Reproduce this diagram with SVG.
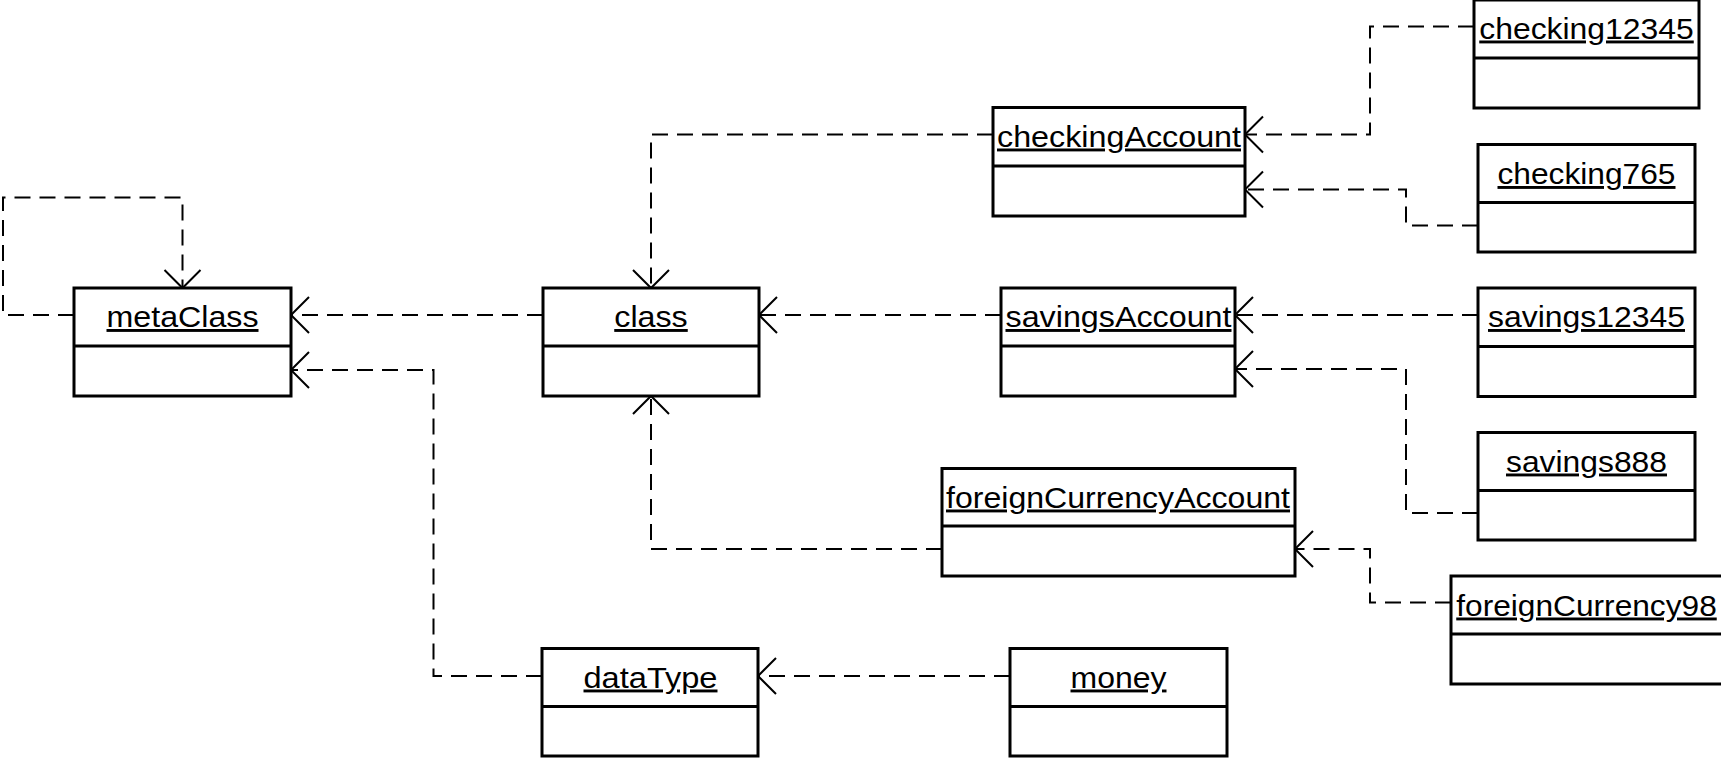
<svg xmlns="http://www.w3.org/2000/svg" width="1721" height="759" viewBox="0 0 1721 759">
<style>
.box{fill:#fff;stroke:#000;stroke-width:3}
.div{stroke:#000;stroke-width:3}
.lbl{font-family:"Liberation Sans",Arial,sans-serif;font-size:29px;fill:#000;text-anchor:middle;text-decoration:underline}
.dep{fill:none;stroke:#000;stroke-width:2;stroke-dasharray:16 9;marker-end:url(#open)}
</style>
<defs>
<marker id="open" markerUnits="userSpaceOnUse" viewBox="-20 -20 22 40" refX="0" refY="0" markerWidth="22" markerHeight="40" orient="auto" overflow="visible">
<path d="M-18,-18 L0,0 L-18,18" fill="none" stroke="#000" stroke-width="2" stroke-dasharray="none"/>
</marker>
</defs>
<rect width="1721" height="759" fill="#fff"/>
<g id="connectors">
<path class="dep" d="M74,315 H3 V197.5 H182.5 V288"/>
<path class="dep" d="M543,315 H291"/>
<path class="dep" d="M542,676 H433.5 V370 H291"/>
<path class="dep" d="M993,134.5 H651 V288"/>
<path class="dep" d="M1001,315 H759"/>
<path class="dep" d="M942,549 H651 V396"/>
<path class="dep" d="M1010,676 H758"/>
<path class="dep" d="M1474,26.5 H1370 V134.5 H1245"/>
<path class="dep" d="M1478,225.5 H1406 V189.5 H1245"/>
<path class="dep" d="M1478,315 H1235"/>
<path class="dep" d="M1478,513 H1406 V369 H1235"/>
<path class="dep" d="M1451,602.5 H1370 V549 H1295"/>
</g>
<g id="metaClass">
<rect class="box" x="74" y="288" width="217" height="108"/>
<line class="div" x1="74" y1="346" x2="291" y2="346"/>
<text class="lbl" x="182.5" y="327" textLength="152" lengthAdjust="spacingAndGlyphs">metaClass</text>
</g>
<g id="class">
<rect class="box" x="543" y="288" width="216" height="108"/>
<line class="div" x1="543" y1="346" x2="759" y2="346"/>
<text class="lbl" x="651" y="327" textLength="73.5" lengthAdjust="spacingAndGlyphs">class</text>
</g>
<g id="checkingAccount">
<rect class="box" x="993" y="107.5" width="252" height="108.5"/>
<line class="div" x1="993" y1="166" x2="1245" y2="166"/>
<text class="lbl" x="1119" y="146.5" textLength="244" lengthAdjust="spacingAndGlyphs">checkingAccount</text>
</g>
<g id="savingsAccount">
<rect class="box" x="1001" y="288" width="234" height="108"/>
<line class="div" x1="1001" y1="346" x2="1235" y2="346"/>
<text class="lbl" x="1118.5" y="327" textLength="226" lengthAdjust="spacingAndGlyphs">savingsAccount</text>
</g>
<g id="foreignCurrencyAccount">
<rect class="box" x="942" y="468.5" width="353" height="107.5"/>
<line class="div" x1="942" y1="526" x2="1295" y2="526"/>
<text class="lbl" x="1118" y="507.5" textLength="344" lengthAdjust="spacingAndGlyphs">foreignCurrencyAccount</text>
</g>
<g id="dataType">
<rect class="box" x="542" y="648.5" width="216" height="107.5"/>
<line class="div" x1="542" y1="706.5" x2="758" y2="706.5"/>
<text class="lbl" x="650.5" y="687.5" textLength="134" lengthAdjust="spacingAndGlyphs">dataType</text>
</g>
<g id="money">
<rect class="box" x="1010" y="648.5" width="217" height="107.5"/>
<line class="div" x1="1010" y1="706.5" x2="1227" y2="706.5"/>
<text class="lbl" x="1118.5" y="687.5" textLength="96" lengthAdjust="spacingAndGlyphs">money</text>
</g>
<g id="checking12345">
<rect class="box" x="1474" y="0" width="225" height="108"/>
<line class="div" x1="1474" y1="58" x2="1699" y2="58"/>
<text class="lbl" x="1586.5" y="38.5" textLength="214.5" lengthAdjust="spacingAndGlyphs">checking12345</text>
</g>
<g id="checking765">
<rect class="box" x="1478" y="144.5" width="217" height="107.5"/>
<line class="div" x1="1478" y1="202.5" x2="1695" y2="202.5"/>
<text class="lbl" x="1586.5" y="184" textLength="178" lengthAdjust="spacingAndGlyphs">checking765</text>
</g>
<g id="savings12345">
<rect class="box" x="1478" y="288" width="217" height="108.5"/>
<line class="div" x1="1478" y1="346.5" x2="1695" y2="346.5"/>
<text class="lbl" x="1586.5" y="327" textLength="197" lengthAdjust="spacingAndGlyphs">savings12345</text>
</g>
<g id="savings888">
<rect class="box" x="1478" y="432.5" width="217" height="107.5"/>
<line class="div" x1="1478" y1="490.5" x2="1695" y2="490.5"/>
<text class="lbl" x="1586.5" y="471.5" textLength="161" lengthAdjust="spacingAndGlyphs">savings888</text>
</g>
<g id="foreignCurrency98">
<rect class="box" x="1451" y="576" width="272" height="108"/>
<line class="div" x1="1451" y1="634" x2="1723" y2="634"/>
<text class="lbl" x="1586.5" y="615.5" textLength="260.5" lengthAdjust="spacingAndGlyphs">foreignCurrency98</text>
</g>
</svg>
